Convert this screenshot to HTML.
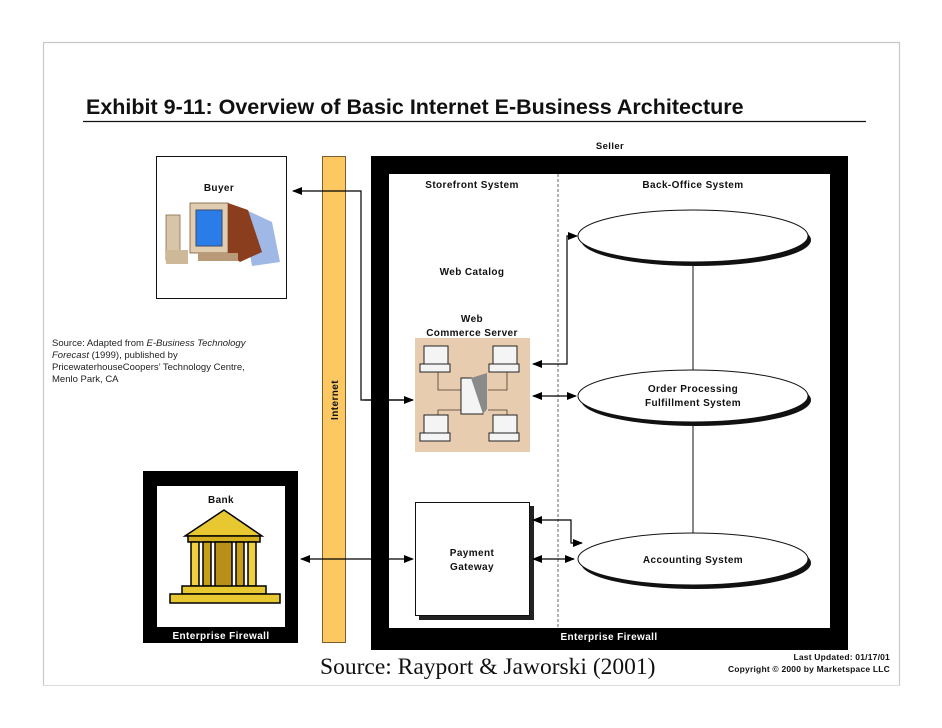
<!DOCTYPE html>
<html><head><meta charset="utf-8"><style>
html,body{margin:0;padding:0;background:#fff;}
svg{display:block;}
text{font-family:"Liberation Sans",Arial,sans-serif;}
.b{font-weight:bold;font-size:10px;fill:#111;letter-spacing:0.4px;}
</style></head><body>
<svg width="942" height="728" viewBox="0 0 942 728" xmlns="http://www.w3.org/2000/svg">
<defs>
<marker id="a" markerWidth="10" markerHeight="8" refX="9" refY="4" orient="auto" markerUnits="userSpaceOnUse"><path d="M0,0 L10,4 L0,8 z" fill="#000"/></marker>
<marker id="s" markerWidth="10" markerHeight="8" refX="1" refY="4" orient="auto" markerUnits="userSpaceOnUse"><path d="M10,0 L0,4 L10,8 z" fill="#000"/></marker>
</defs>
<rect width="942" height="728" fill="#fff"/>
<path d="M43.5,686 L43.5,42.5 L899.5,42.5 L899.5,686" fill="none" stroke="#c8c8cc" stroke-width="1.2"/>
<line x1="43" y1="685.5" x2="900" y2="685.5" stroke="#dcdcdc" stroke-width="1"/>
<text x="86" y="114" style="font-size:21.5px;font-weight:bold;fill:#111">Exhibit 9-11: Overview of Basic Internet E-Business Architecture</text>
<line x1="83" y1="121.5" x2="866" y2="121.5" stroke="#111" stroke-width="1.2"/>
<text x="610" y="149" class="b" text-anchor="middle" style="font-size:9.5px">Seller</text>

<rect x="156.5" y="156.5" width="130" height="142" fill="#fff" stroke="#111"/>
<text x="219" y="191" class="b" text-anchor="middle">Buyer</text>
<g>
<polygon points="242,208 272,222 280,262 252,266" fill="#9fb8e6"/>
<rect x="166" y="215" width="14" height="45" fill="#d8c4a8" stroke="#8a6a4a" stroke-width="0.8"/>
<rect x="190" y="203" width="38" height="50" fill="#e0ccb0" stroke="#7a5a3a" stroke-width="0.8"/>
<polygon points="228,203 248,210 262,252 240,262 228,253" fill="#8b3e1e"/>
<rect x="196" y="210" width="26" height="36" fill="#2a7de8" stroke="#3a4a6a" stroke-width="1"/>
<rect x="166" y="250" width="22" height="14" fill="#cdb898"/>
<rect x="198" y="253" width="40" height="8" fill="#b89a78"/>
</g>

<rect x="322.5" y="156.5" width="23" height="486" fill="#fdc862" stroke="#7a6030"/>
<text transform="translate(338,400) rotate(-90)" class="b" text-anchor="middle">Internet</text>

<rect x="371" y="156" width="477" height="494" fill="#000"/>
<rect x="389" y="174" width="441" height="454" fill="#fff"/>
<text x="609" y="640" class="b" text-anchor="middle" style="fill:#fff">Enterprise Firewall</text>
<line x1="558" y1="174" x2="558" y2="628" stroke="#666" stroke-width="1" stroke-dasharray="3,2"/>
<text x="472" y="188" class="b" text-anchor="middle">Storefront System</text>
<text x="693" y="188" class="b" text-anchor="middle">Back-Office System</text>
<text x="472" y="275" class="b" text-anchor="middle">Web Catalog</text>
<text x="472" y="322" class="b" text-anchor="middle">Web</text>
<text x="472" y="336" class="b" text-anchor="middle">Commerce Server</text>

<rect x="415" y="338" width="115" height="114" fill="#e8ccb0"/>
<g stroke="#4a3a2a" stroke-width="0.8" fill="none">
<path d="M438,372 L438,390 L462,390 M507,372 L507,390 L488,390 M438,428 L438,410 L462,410 M507,428 L507,410 L488,410"/>
</g>
<g fill="#f4f4f4" stroke="#222" stroke-width="1">
<rect x="424" y="346" width="24" height="18"/><rect x="420" y="364" width="30" height="8"/>
<rect x="493" y="346" width="24" height="18"/><rect x="489" y="364" width="30" height="8"/>
<rect x="424" y="415" width="24" height="18"/><rect x="420" y="433" width="30" height="8"/>
<rect x="493" y="415" width="24" height="18"/><rect x="489" y="433" width="30" height="8"/>
<rect x="461" y="378" width="22" height="36"/>
</g>
<polygon points="471,378 487,373 487,409 483,414" fill="#8a8a8a"/>

<rect x="419" y="506" width="115" height="114" fill="#222"/>
<rect x="415.5" y="502.5" width="114" height="113" fill="#fff" stroke="#111"/>
<text x="472" y="556" class="b" text-anchor="middle">Payment</text>
<text x="472" y="570" class="b" text-anchor="middle">Gateway</text>

<g>
<ellipse cx="696" cy="240" rx="115" ry="26" fill="#111"/>
<ellipse cx="693" cy="236" rx="115" ry="26" fill="#fff" stroke="#111"/>
<ellipse cx="696" cy="400" rx="115" ry="26" fill="#111"/>
<ellipse cx="693" cy="396" rx="115" ry="26" fill="#fff" stroke="#111"/>
<ellipse cx="696" cy="563" rx="115" ry="26" fill="#111"/>
<ellipse cx="693" cy="559" rx="115" ry="26" fill="#fff" stroke="#111"/>
</g>
<line x1="693" y1="263" x2="693" y2="370" stroke="#111"/>
<line x1="693" y1="423" x2="693" y2="533" stroke="#111"/>
<text x="693" y="392" class="b" text-anchor="middle">Order Processing</text>
<text x="693" y="406" class="b" text-anchor="middle">Fulfillment System</text>
<text x="693" y="563" class="b" text-anchor="middle">Accounting System</text>

<rect x="143" y="471" width="155" height="172" fill="#000"/>
<rect x="157" y="486" width="128" height="141" fill="#fff"/>
<text x="221" y="503" class="b" text-anchor="middle">Bank</text>
<text x="221" y="639" class="b" text-anchor="middle" style="fill:#fff">Enterprise Firewall</text>
<g stroke="#000" stroke-width="1.5">
<polygon points="185,536 224,510 262,536" fill="#e8c830"/>
<rect x="188" y="536" width="72" height="6" fill="#d4b020"/>
<rect x="191" y="542" width="8" height="44" fill="#f0d040"/>
<rect x="203" y="542" width="8" height="44" fill="#c8a018"/>
<rect x="236" y="542" width="8" height="44" fill="#c8a018"/>
<rect x="248" y="542" width="8" height="44" fill="#f0d040"/>
<rect x="215" y="542" width="17" height="46" fill="#b89018"/>
<rect x="182" y="586" width="84" height="8" fill="#e8c830"/>
<rect x="170" y="594" width="110" height="9" fill="#e8c830"/>
</g>

<g stroke="#000" stroke-width="1.2" fill="none">
<polyline points="413,400 361,400 361,191 293,191" marker-end="url(#a)"/>
<line x1="364" y1="400" x2="413" y2="400" marker-end="url(#a)"/>
<line x1="301" y1="559" x2="413" y2="559" marker-start="url(#s)" marker-end="url(#a)"/>
<polyline points="533,364 567,364 567,236 577,236" marker-start="url(#s)" marker-end="url(#a)"/>
<line x1="533" y1="396" x2="576" y2="396" marker-start="url(#s)" marker-end="url(#a)"/>
<polyline points="533,520 571,520 571,543 582,543" marker-start="url(#s)" marker-end="url(#a)"/>
<line x1="533" y1="559" x2="574" y2="559" marker-start="url(#s)" marker-end="url(#a)"/>
</g>

<g style="font-size:9.5px;fill:#222">
<text x="52" y="346">Source: Adapted from <tspan font-style="italic">E-Business Technology</tspan></text>
<text x="52" y="358"><tspan font-style="italic">Forecast</tspan> (1999), published by</text>
<text x="52" y="370">PricewaterhouseCoopers’ Technology Centre,</text>
<text x="52" y="382">Menlo Park, CA</text>
</g>

<text x="320" y="674" style="font-family:'Liberation Serif',serif;font-size:23.5px;fill:#111">Source: Rayport &amp; Jaworski (2001)</text>
<text x="890" y="660" class="b" text-anchor="end" style="font-size:8.5px;letter-spacing:0.2px">Last Updated: 01/17/01</text>
<text x="890" y="672" class="b" text-anchor="end" style="font-size:8.5px;letter-spacing:0.2px">Copyright © 2000 by Marketspace LLC</text>
</svg>
</body></html>
